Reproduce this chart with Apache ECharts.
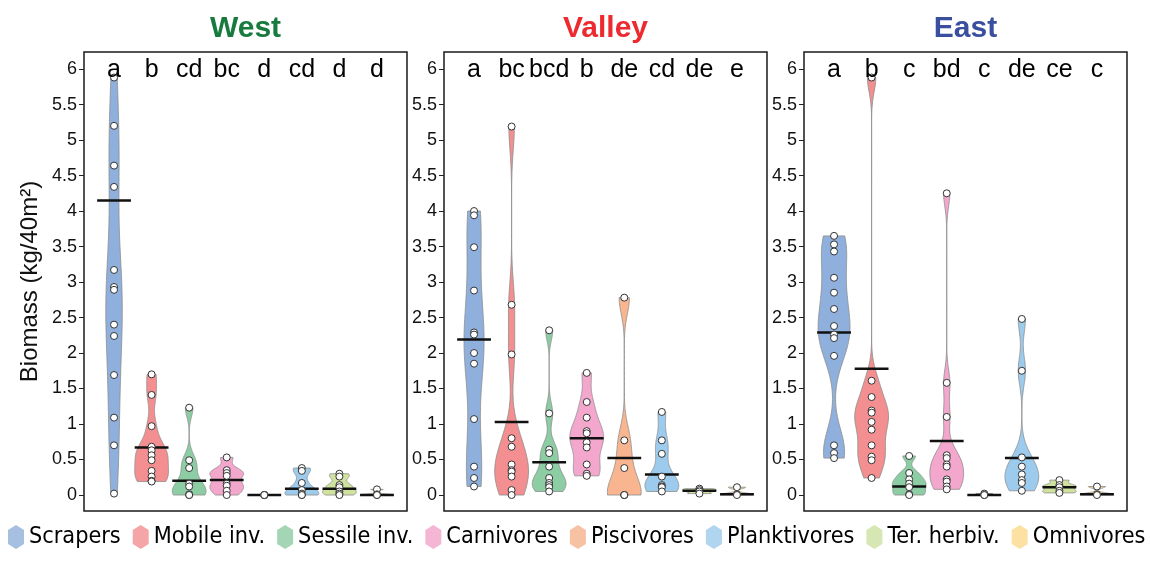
<!DOCTYPE html>
<html>
<head>
<meta charset="utf-8">
<script src="https://cdn.jsdelivr.net/npm/echarts@6/dist/echarts.min.js"></script>
<style>html,body{margin:0;padding:0;background:#fff}#c{width:1150px;height:561px}</style>
</head>
<body>
<div id="c"></div>
<script>
// ---------- data ----------
const groups = ['Scrapers', 'Mobile inv.', 'Sessile inv.', 'Carnivores', 'Piscivores', 'Planktivores', 'Ter. herbiv.', 'Omnivores'];
const panelNames = ['West', 'Valley', 'East'];
const yTicks = [0, 0.5, 1, 1.5, 2, 2.5, 3, 3.5, 4, 4.5, 5, 5.5, 6];

const westPoints = [
  [5.88, 5.2, 4.64, 4.34, 3.17, 2.93, 2.89, 2.40, 2.24, 1.69, 1.09, 0.70, 0.02],
  [1.70, 1.41, 0.97, 0.68, 0.63, 0.56, 0.49, 0.34, 0.26, 0.20, 0.19],
  [1.23, 0.49, 0.38, 0.16, 0.12, 0.01, 0.0, 0.0],
  [0.53, 0.35, 0.31, 0.27, 0.16, 0.13, 0.06, 0.0],
  [0, 0, 0, 0, 0],
  [0.38, 0.34, 0.17, 0.07, 0.02, 0.0, 0.0],
  [0.30, 0.26, 0.14, 0.11, 0.05, 0.02, 0.0],
  [0.08, 0.01, 0.0, 0.0]
];
const westMeans = [4.15, 0.67, 0.20, 0.21, 0.0, 0.09, 0.09, 0.0];
const westLetters = ['a', 'b', 'cd', 'bc', 'd', 'cd', 'd', 'd'];

const valleyPoints = [
  [4.0, 3.94, 3.49, 2.88, 2.29, 2.26, 2.0, 1.85, 1.07, 0.40, 0.24, 0.12],
  [5.19, 2.68, 1.98, 0.80, 0.68, 0.43, 0.35, 0.33, 0.26, 0.07, 0.0],
  [2.32, 1.15, 0.64, 0.59, 0.40, 0.24, 0.17, 0.14, 0.11, 0.05],
  [1.72, 1.31, 1.09, 0.90, 0.87, 0.74, 0.67, 0.43, 0.30, 0.27],
  [2.78, 0.77, 0.38, 0, 0, 0],
  [1.17, 0.77, 0.58, 0.26, 0.14, 0.12, 0.11, 0.05],
  [0.09, 0.07, 0.05, 0.02],
  [0.11, 0.01, 0.0]
];
const valleyMeans = [2.19, 1.03, 0.46, 0.80, 0.52, 0.29, 0.06, 0.01];
const valleyLetters = ['a', 'bc', 'bcd', 'b', 'de', 'cd', 'de', 'e'];

const eastPoints = [
  [3.65, 3.53, 3.43, 3.06, 2.85, 2.62, 2.38, 2.26, 2.21, 1.96, 0.70, 0.59, 0.52],
  [5.88, 1.61, 1.38, 1.19, 1.16, 1.03, 0.92, 0.70, 0.54, 0.49, 0.24],
  [0.55, 0.31, 0.22, 0.16, 0.11, 0.01, 0.0],
  [4.25, 1.58, 1.10, 0.56, 0.52, 0.43, 0.40, 0.22, 0.19, 0.12, 0.08],
  [0.02, 0.0, 0.0],
  [2.48, 1.75, 0.53, 0.40, 0.29, 0.21, 0.17, 0.06],
  [0.21, 0.14, 0.11, 0.06, 0.03],
  [0.12, 0.01, 0.0]
];
const eastMeans = [2.29, 1.78, 0.12, 0.76, 0.0, 0.52, 0.11, 0.01];
const eastLetters = ['a', 'b', 'c', 'bd', 'c', 'de', 'ce', 'c'];

// ---------- styles ----------
const violinColors = ['#8fb0dc', '#f38f91', '#8dcda4', '#f4a7cc', '#f9b58f', '#9dcbed', '#cfe39f', '#fcd98b'];
const legendColors = ['#a7bfe0', '#f5a5a7', '#a4d6b5', '#f4b6d4', '#f7c2a3', '#b0d5ef', '#d7e7b4', '#fce1a3'];
const titleColors = ['#177a3e', '#ec2a30', '#3a4f9f'];
const FONT = '"Liberation Sans", Arial, sans-serif';
const LEGEND_FONT = '"Liberation Sans Narrow", "Arial Narrow", "DejaVu Sans Condensed", "Liberation Sans", sans-serif';

const panels = [
  { points: westPoints, means: westMeans, letters: westLetters },
  { points: valleyPoints, means: valleyMeans, letters: valleyLetters },
  { points: eastPoints, means: eastMeans, letters: eastLetters }
];
const gridLefts = [84, 444, 804];
const GRID_W = 323, GRID_TOP = 52, GRID_H = 459;
const HALF = 0.45;

function quantile(sorted, q) {
  const pos = (sorted.length - 1) * q, lo = Math.floor(pos), hi = Math.ceil(pos);
  return sorted[lo] + (sorted[hi] - sorted[lo]) * (pos - lo);
}
function violinProfile(vals) {
  const n = vals.length;
  const s = vals.slice().sort((a, b) => a - b);
  const lo = s[0], hi = s[n - 1];
  if (hi - lo <= 0) return null;
  const mean = s.reduce((a, b) => a + b, 0) / n;
  const sd = Math.sqrt(s.reduce((a, b) => a + (b - mean) * (b - mean), 0) / (n - 1));
  const iqr = quantile(s, 0.75) - quantile(s, 0.25);
  const A = iqr > 0 ? Math.min(sd, iqr / 1.34) : sd;
  const bw = 0.65 * A * Math.pow(n, -0.2);
  const steps = 160, prof = [];
  let peak = 0;
  for (let k = 0; k <= steps; k++) {
    const y = lo + (hi - lo) * k / steps;
    let d = 0;
    for (const v of s) { const z = (y - v) / bw; d += Math.exp(-0.5 * z * z); }
    d /= n * bw * Math.sqrt(2 * Math.PI);
    peak = Math.max(peak, d);
    prof.push([y, d]);
  }
  const scale = Math.min(1.0, HALF / peak);
  return prof.map(p => [p[0], p[1] * scale]);
}

const grids = [], xAxes = [], yAxes = [], series = [], titles = [];
panels.forEach((p, pi) => {
  grids.push({ left: gridLefts[pi], top: GRID_TOP, width: GRID_W, height: GRID_H, show: true,
    borderColor: '#1a1a1a', borderWidth: 1.5, backgroundColor: 'transparent' });
  xAxes.push({ type: 'value', gridIndex: pi, min: 0.2, max: 8.8, show: false });
  yAxes.push({
    type: 'value', gridIndex: pi, min: -0.225, max: 6.24,
    axisLine: { show: false }, splitLine: { show: false },
    axisTick: { show: true, customValues: yTicks, length: 5, inside: false, lineStyle: { color: '#222', width: 1 } },
    axisLabel: { show: true, customValues: yTicks, margin: 7, color: '#111', fontSize: 18, fontFamily: FONT },
    name: pi === 0 ? 'Biomass (kg/40m²)' : '', nameLocation: 'middle', nameGap: 42, nameRotate: 90,
    nameTextStyle: { fontSize: 24, fontFamily: FONT, color: '#111' }
  });
  titles.push({ text: panelNames[pi], left: gridLefts[pi] + GRID_W / 2, top: 14, textAlign: 'center', padding: 0,
    textStyle: { fontSize: 30, fontWeight: 'bold', fontFamily: FONT, color: titleColors[pi] } });

  // violins
  p.points.forEach((vals, gi) => {
    const prof = violinProfile(vals);
    series.push({
      type: 'custom', name: groups[gi], xAxisIndex: pi, yAxisIndex: pi, z: 2,
      data: [[gi + 1]], silent: true,
      renderItem: function (params, api) {
        if (!prof) return null;
        const cx = api.value(0);
        const pts = [];
        prof.forEach(q => pts.push(api.coord([cx + q[1], q[0]])));
        for (let k = prof.length - 1; k >= 0; k--) pts.push(api.coord([cx - prof[k][1], prof[k][0]]));
        return { type: 'polygon', shape: { points: pts },
          style: { fill: violinColors[gi], stroke: '#8c8c8c', lineWidth: 0.8 } };
      }
    });
  });
  // mean bars
  series.push({
    type: 'custom', xAxisIndex: pi, yAxisIndex: pi, z: 3, silent: true,
    data: p.means.map((m, gi) => [gi + 1, m]),
    renderItem: function (params, api) {
      const a = api.coord([api.value(0) - HALF, api.value(1)]);
      const b = api.coord([api.value(0) + HALF, api.value(1)]);
      return { type: 'line', shape: { x1: a[0], y1: a[1], x2: b[0], y2: b[1] },
        style: { stroke: '#111', lineWidth: 2.5 } };
    }
  });
  // points
  const pts = [];
  p.points.forEach((vals, gi) => vals.forEach(v => pts.push([gi + 1, v])));
  series.push({
    type: 'scatter', xAxisIndex: pi, yAxisIndex: pi, z: 4, silent: true, data: pts,
    symbol: 'circle', symbolSize: 7,
    itemStyle: { color: '#ffffff', borderColor: '#333', borderWidth: 1, opacity: 1 }
  });
  // significance letters
  series.push({
    type: 'custom', xAxisIndex: pi, yAxisIndex: pi, z: 5, silent: true,
    data: p.letters.map((l, gi) => [gi + 1, 6]),
    renderItem: function (params, api) {
      const c = api.coord([api.value(0), api.value(1)]);
      return { type: 'text', x: c[0], y: c[1] + 1,
        style: { text: p.letters[params.dataIndex], fill: '#000', fontSize: 25, fontFamily: FONT,
          align: 'center', verticalAlign: 'middle' } };
    }
  });
});

// legend: size the text so the row spans the same width as in the reference
const ICON_W = 16, TEXT_GAP = 5, ITEM_GAP = 12, ROW_LEFT = 8, ROW_RIGHT = 1146;
const mctx = document.createElement('canvas').getContext('2d');
mctx.font = '30px ' + LEGEND_FONT;
const textSum30 = groups.reduce((a, g) => a + mctx.measureText(g).width, 0);
const avail = (ROW_RIGHT - ROW_LEFT) - groups.length * (ICON_W + TEXT_GAP) - (groups.length - 1) * ITEM_GAP;
const legendFontSize = Math.min(34, 30 * avail / textSum30);

const hexIcon = 'path://M8,0 L16,5 L16,19 L8,24 L0,19 L0,5 Z';
const legend = {
  data: groups.map((g, i) => ({ name: g, itemStyle: { color: legendColors[i], borderWidth: 0 } })),
  left: ROW_LEFT, top: 525, padding: 0, itemWidth: ICON_W, itemHeight: 24, itemGap: ITEM_GAP,
  icon: hexIcon, selectedMode: false,
  textStyle: { fontSize: legendFontSize, fontFamily: LEGEND_FONT, color: '#000' }
};

const chart = echarts.init(document.getElementById('c'), null, { renderer: 'canvas' });
chart.setOption({
  animation: false,
  backgroundColor: '#fff',
  title: titles,
  grid: grids,
  xAxis: xAxes,
  yAxis: yAxes,
  legend: legend,
  series: series
});
</script>
</body>
</html>
